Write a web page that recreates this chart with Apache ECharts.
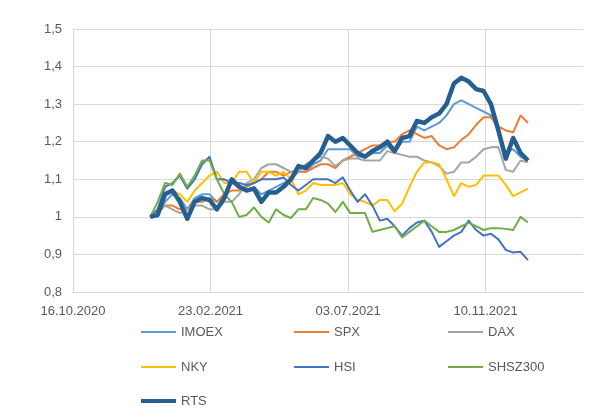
<!DOCTYPE html>
<html>
<head>
<meta charset="utf-8">
<script src="https://cdn.jsdelivr.net/npm/echarts@6/dist/echarts.min.js"></script>
<style>html,body{margin:0;padding:0;background:#fff}#c{width:597px;height:420px}</style>
</head>
<body>
<div id="c"></div>
<script>
const dates = ['2020-12-28','2021-01-04','2021-01-11','2021-01-18','2021-01-25','2021-02-01','2021-02-08','2021-02-15','2021-02-22','2021-03-01','2021-03-08','2021-03-15','2021-03-22','2021-03-29','2021-04-05','2021-04-12','2021-04-19','2021-04-26','2021-05-03','2021-05-10','2021-05-17','2021-05-24','2021-05-31','2021-06-07','2021-06-14','2021-06-21','2021-06-28','2021-07-05','2021-07-12','2021-07-19','2021-07-26','2021-08-02','2021-08-09','2021-08-16','2021-08-23','2021-08-30','2021-09-06','2021-09-13','2021-09-20','2021-09-27','2021-10-04','2021-10-11','2021-10-18','2021-10-25','2021-11-01','2021-11-08','2021-11-15','2021-11-22','2021-11-29','2021-12-06','2021-12-13','2021-12-20'];

const IMOEX = [1.00,1.01,1.04,1.06,1.05,1.02,1.05,1.06,1.06,1.04,1.06,1.09,1.08,1.07,1.08,1.06,1.07,1.08,1.09,1.10,1.12,1.12,1.14,1.15,1.18,1.18,1.18,1.18,1.16,1.16,1.17,1.17,1.19,1.17,1.20,1.20,1.24,1.23,1.24,1.25,1.27,1.30,1.31,1.30,1.29,1.28,1.27,1.23,1.17,1.18,1.16,1.15];
const SPX = [1.00,1.01,1.03,1.03,1.02,1.02,1.04,1.04,1.05,1.04,1.06,1.07,1.07,1.08,1.09,1.10,1.12,1.12,1.11,1.12,1.12,1.12,1.13,1.14,1.14,1.13,1.15,1.16,1.17,1.18,1.19,1.19,1.20,1.20,1.22,1.23,1.22,1.21,1.215,1.19,1.18,1.185,1.205,1.22,1.245,1.265,1.265,1.24,1.23,1.225,1.27,1.25];
const DAX = [1.00,1.02,1.03,1.02,1.01,1.02,1.03,1.03,1.02,1.02,1.04,1.04,1.06,1.09,1.10,1.13,1.14,1.14,1.13,1.12,1.12,1.14,1.15,1.16,1.155,1.135,1.15,1.155,1.155,1.15,1.15,1.15,1.175,1.17,1.165,1.16,1.16,1.15,1.145,1.135,1.115,1.12,1.145,1.145,1.16,1.18,1.185,1.186,1.125,1.12,1.15,1.145];
const NKY = [1.00,1.02,1.06,1.07,1.06,1.04,1.07,1.09,1.11,1.12,1.09,1.09,1.12,1.12,1.09,1.12,1.12,1.11,1.12,1.10,1.06,1.07,1.09,1.085,1.085,1.085,1.09,1.06,1.045,1.04,1.03,1.045,1.045,1.015,1.035,1.08,1.12,1.145,1.145,1.14,1.10,1.055,1.09,1.08,1.085,1.11,1.11,1.11,1.085,1.055,1.065,1.075];
const HSI = [1.00,1.02,1.08,1.09,1.11,1.075,1.10,1.14,1.16,1.10,1.10,1.09,1.09,1.085,1.09,1.10,1.10,1.10,1.105,1.085,1.07,1.085,1.10,1.10,1.10,1.09,1.105,1.07,1.04,1.06,1.03,0.99,0.995,0.975,0.95,0.97,0.985,0.99,0.96,0.92,0.935,0.95,0.96,0.99,0.965,0.95,0.955,0.94,0.912,0.905,0.907,0.885];
const SHSZ300 = [1.00,1.04,1.09,1.085,1.115,1.08,1.11,1.15,1.15,1.10,1.06,1.04,1.00,1.005,1.025,1.00,0.985,1.02,1.005,0.997,1.02,1.02,1.05,1.045,1.035,1.013,1.04,1.01,1.01,1.01,0.96,0.965,0.97,0.975,0.945,0.96,0.975,0.99,0.975,0.96,0.96,0.965,0.975,0.984,0.975,0.965,0.97,0.97,0.968,0.965,1.00,0.985];
const RTS = [1.00,1.005,1.06,1.07,1.04,0.995,1.04,1.05,1.045,1.02,1.05,1.10,1.08,1.07,1.075,1.04,1.065,1.065,1.08,1.10,1.135,1.13,1.15,1.17,1.215,1.20,1.21,1.19,1.17,1.16,1.175,1.185,1.20,1.175,1.21,1.215,1.255,1.25,1.265,1.275,1.30,1.355,1.37,1.36,1.34,1.335,1.30,1.23,1.155,1.21,1.17,1.15];

const seriesNames = ['IMOEX','SPX','DAX','NKY','HSI','SHSZ300','RTS'];
const seriesData = [IMOEX,SPX,DAX,NKY,HSI,SHSZ300,RTS];
const colors = ['#5B9BD5','#ED7D31','#A5A5A5','#FFC000','#4472C4','#70AD47','#255E91'];
const widths = [2,2,2,2,2,2,4.5];

const DAY = 86400000;
const origin = Date.UTC(2020,9,16);
const toDay = s => { const p = s.split('-'); return (Date.UTC(+p[0], +p[1]-1, +p[2]) - origin) / DAY; };
const fmtDay = d => { const t = new Date(origin + d*DAY); const dd = String(t.getUTCDate()).padStart(2,'0'); const mm = String(t.getUTCMonth()+1).padStart(2,'0'); return dd + '.' + mm + '.' + t.getUTCFullYear(); };

const chart = echarts.init(document.getElementById('c'));
const font = 'Liberation Sans, Arial, sans-serif';
const legendPos = [[141,325.5],[294,325.5],[448,325.5],[141,360.5],[294,360.5],[448,360.5],[141,394.5]];

chart.setOption({
  animation: false,
  backgroundColor: '#fff',
  grid: {left: 73, right: 14, top: 29, bottom: 128, containLabel: false},
  xAxis: {
    type: 'value', min: 0, max: 482, interval: 130,
    axisLine: {show: true, lineStyle: {color: '#d9d9d9', width: 1}},
    axisTick: {show: false},
    splitLine: {show: true, showMaxLine: false, lineStyle: {color: '#d9d9d9', width: 1}},
    axisLabel: {color: '#595959', fontSize: 13, fontFamily: font, margin: 13, showMaxLabel: false, formatter: v => fmtDay(v)}
  },
  yAxis: {
    type: 'value', min: 0.8, max: 1.5, interval: 0.1,
    axisLine: {show: true, lineStyle: {color: '#d9d9d9', width: 1}},
    axisTick: {show: false},
    splitLine: {show: true, lineStyle: {color: '#d9d9d9', width: 1}},
    axisLabel: {color: '#595959', fontSize: 13, fontFamily: font, margin: 11, formatter: v => String(+v.toFixed(1)).replace('.', ',')}
  },
  legend: seriesNames.map((n,i) => ({
    data: [n], left: legendPos[i][0], top: legendPos[i][1], icon: 'rect',
    itemWidth: 35, itemHeight: i === 6 ? 4 : 2, padding: 0,
    textStyle: {color: '#595959', fontSize: 13, fontFamily: font}
  })),
  series: seriesNames.map((n,i) => ({
    name: n, type: 'line', symbol: 'none', smooth: false,
    data: dates.map((d,k) => [toDay(d), seriesData[i][k]]),
    lineStyle: {color: colors[i], width: widths[i], join: 'round'},
    itemStyle: {color: colors[i]},
    z: 2 + i
  }))
});
</script>
</body>
</html>
